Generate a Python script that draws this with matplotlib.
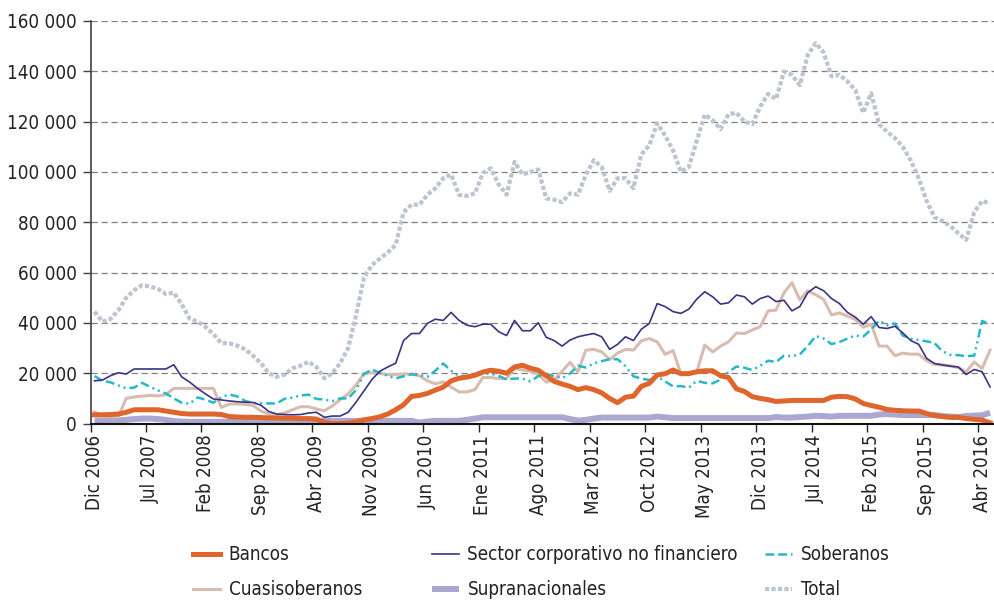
import numpy as np
import matplotlib.pyplot as plt
from matplotlib.ticker import FuncFormatter

plt.rcParams['font.family'] = ['DejaVu Sans']
plt.rcParams['font.stretch'] = 'condensed'

# Monthly series, Dic 2006 - May 2016 (thousands)
bancos = [3.5, 3.5, 3.6, 3.8, 4.5, 5.5, 5.5, 5.5, 5.5, 5.0, 4.5, 4.0, 3.8, 3.8, 3.8, 3.8, 3.6, 2.8, 2.6, 2.5,
          2.5, 2.4, 2.3, 2.2, 2.2, 2.1, 2.0, 2.0, 1.8,
          0.5, 0.0, 0.0, 0.2, 0.7, 1.5, 2.0, 2.7, 3.8, 5.5, 7.5, 10.8, 11.2, 12.0, 13.3, 14.5, 17.0, 18.0, 18.5,
          19.2, 20.5, 21.2, 20.8, 20.0, 22.5, 23.2, 22.0, 21.2, 19.0,
          16.8, 15.7, 14.8, 13.5, 14.3, 13.5, 12.2, 10.0, 8.3, 10.5, 10.9, 14.8, 16.0, 19.3, 19.8, 21.3, 19.8,
          19.9, 20.6, 21.0, 21.0, 19.0, 18.3, 13.8, 12.8, 10.7, 10.0, 9.5, 8.8,
          9.0, 9.2, 9.2, 9.2, 9.2, 9.2, 10.5, 10.8, 10.7, 9.8, 8.0, 7.2, 6.5, 5.6, 5.3, 5.1, 5.0, 5.0, 4.0, 3.2,
          2.8, 2.5, 2.5, 2.0, 1.7, 1.4, 0.3]
corporativo = [17.0, 17.3, 19.0, 20.2, 19.7, 21.7, 21.7, 21.7, 21.7, 21.7, 23.4, 18.6, 16.5, 14.0, 11.8, 9.8,
               9.4, 9.0, 8.7, 8.5, 8.4, 7.3, 4.8, 3.8, 3.6, 3.5, 3.6, 4.2, 4.5,
               2.5, 3.0, 3.0, 4.5, 8.5, 13.0, 17.5, 20.8, 22.5, 24.0, 33.0, 35.8, 35.8, 39.8, 41.5, 41.0, 44.2,
               41.0, 39.1, 38.5, 39.5, 39.5, 36.5, 35.0, 41.0, 36.9, 36.9, 40.1, 34.3,
               33.0, 30.8, 33.2, 34.5, 35.2, 35.8, 34.5, 29.5, 31.5, 34.5, 33.0, 37.5, 39.8, 47.7, 46.5, 44.5,
               43.8, 45.5, 49.5, 52.4, 50.4, 47.5, 48.0, 51.1, 50.4, 47.5, 49.7, 50.7, 48.5,
               49.0, 44.8, 46.5, 52.0, 54.4, 52.8, 49.7, 47.7, 44.2, 42.3, 39.5, 42.5, 38.2, 37.8, 38.7, 36.0,
               33.0, 31.5, 25.9, 23.9, 23.3, 22.8, 22.5, 19.5, 21.5, 20.6, 14.6]
soberanos = [18.9, 17.0, 16.4, 15.2, 14.0, 14.3, 16.2, 14.6, 13.2, 12.0, 10.0, 8.3, 7.9, 10.4, 9.5, 8.3, 10.5,
             11.6, 10.8, 9.0, 8.2, 8.1, 8.0, 8.0, 9.9, 10.3, 11.2, 11.5, 9.8,
             9.6, 8.9, 10.0, 10.0, 13.3, 19.7, 21.5, 20.2, 19.0, 18.0, 18.8, 19.6, 19.3, 18.6, 21.0, 23.9, 21.0,
             18.9, 18.9, 19.2, 19.8, 19.8, 19.0, 17.5, 17.9, 17.9, 16.8, 18.9, 19.7,
             18.9, 18.0, 19.9, 23.0, 22.3, 23.9, 24.8, 25.6, 25.6, 22.8, 18.8, 17.9, 17.3, 18.8, 16.8, 14.8,
             14.9, 14.3, 17.0, 16.2, 16.0, 17.5, 20.5, 22.7, 22.2, 21.3, 23.0, 25.0, 24.5,
             27.0, 26.8, 27.5, 30.8, 34.8, 33.8, 31.6, 32.4, 33.8, 35.0, 34.6, 37.4, 40.9, 39.1, 39.8, 35.0,
             33.7, 33.2, 32.7, 32.0, 28.7, 27.3, 27.2, 26.8, 27.0, 40.8, 39.5]
cuasisoberanos = [4.6, 3.3, 2.8, 2.7, 10.0, 10.6, 10.9, 11.2, 11.0, 11.5, 14.0, 14.0, 14.0, 14.0, 14.0, 14.0,
                  6.4, 7.8, 7.8, 7.6, 7.2, 5.0, 3.8, 3.5, 4.3, 5.5, 6.7, 6.7, 5.8,
                  5.1, 7.0, 9.5, 11.8, 15.3, 19.9, 20.2, 19.9, 19.5, 19.5, 19.7, 19.7, 19.0, 17.0, 15.8, 16.6,
                  14.5, 12.6, 12.6, 13.5, 18.3, 18.3, 17.9, 17.9, 21.9, 21.3, 20.8, 19.5, 16.5,
                  17.4, 20.8, 24.3, 20.6, 29.2, 29.5, 28.5, 25.5, 28.0, 29.5, 29.2, 32.9, 33.8, 32.5, 27.5, 29.0,
                  19.7, 19.4, 20.6, 31.2, 28.5, 30.8, 32.5, 36.0, 35.8, 37.2, 38.5, 44.8, 45.1,
                  52.0, 56.0, 49.2, 52.8, 51.2, 49.3, 43.2, 44.0, 42.7, 41.4, 38.3, 39.5, 30.8, 30.8, 27.0, 28.0,
                  27.6, 27.6, 25.0, 23.5, 23.3, 23.0, 22.2, 20.6, 24.5, 21.9, 29.2]
supranacionales = [1.2, 1.2, 1.2, 1.3, 1.5, 1.8, 2.0, 2.0, 1.8, 1.5, 1.0, 0.8, 0.7, 0.7, 0.7, 0.7, 0.7, 0.7,
                   0.7, 0.7, 0.7, 0.7, 0.7, 0.7, 0.7, 0.7, 0.7, 0.7, 0.7,
                   1.1, 1.1, 1.1, 1.1, 1.1, 1.1, 1.1, 1.1, 1.1, 1.1, 1.1, 1.1, 0.4, 0.8, 1.1, 1.1, 1.1, 1.1, 1.5,
                   2.0, 2.5, 2.5, 2.5, 2.5, 2.5, 2.5, 2.5, 2.5, 2.5,
                   2.5, 2.5, 1.8, 1.2, 1.5, 2.0, 2.4, 2.4, 2.4, 2.4, 2.4, 2.4, 2.4, 2.8, 2.5, 2.2, 2.2, 2.2, 2.2,
                   2.2, 2.2, 2.2, 2.2, 2.2, 2.2, 2.2, 2.2, 2.2, 2.6,
                   2.4, 2.4, 2.6, 2.8, 3.1, 3.0, 2.8, 3.1, 3.1, 3.1, 3.1, 3.1, 3.6, 3.8, 3.6, 3.4, 3.4, 3.4, 3.4,
                   3.4, 3.0, 2.8, 2.6, 3.0, 3.2, 3.3, 4.3]
total = [44.5, 40.5, 41.5, 45.0, 50.0, 53.0, 55.0, 54.5, 53.5, 51.5, 52.0, 47.5, 41.7, 40.5, 38.5, 35.5, 32.0,
         31.9, 31.0, 29.5, 27.0, 24.0, 20.0, 18.6, 19.5, 22.0, 23.0, 24.6, 22.5,
         18.0, 20.0, 24.0, 30.0, 43.0, 58.0, 63.0, 65.5, 68.0, 71.0, 84.0, 87.0, 87.0, 90.9, 93.5, 97.5, 99.0,
         90.9, 90.5, 91.5, 99.5, 101.5, 95.0, 91.0, 104.0, 99.0, 100.0, 101.0, 89.5,
         89.0, 88.0, 91.5, 91.0, 98.8, 104.7, 102.0, 92.5, 97.5, 97.5, 93.5, 107.0, 110.5, 119.3, 114.5,
         108.5, 100.1, 102.0, 112.5, 122.8, 120.5, 117.0, 123.0, 123.5, 120.0, 119.0, 126.0, 131.0, 129.0,
         139.9, 138.6, 134.5, 146.5, 151.2, 147.5, 138.0, 138.6, 136.0, 132.6, 123.5, 131.3, 119.0, 116.0,
         113.5, 110.0, 104.5, 97.5, 88.5, 82.0, 80.5, 78.5, 75.6, 73.0, 84.0, 88.5, 87.5]

tick_labels = ['Dic 2006', 'Jul 2007', 'Feb 2008', 'Sep 2008', 'Abr 2009', 'Nov 2009', 'Jun 2010',
               'Ene 2011', 'Ago 2011', 'Mar 2012', 'Oct 2012', 'May 2013', 'Dic 2013', 'Jul 2014',
               'Feb 2015', 'Sep 2015', 'Abr 2016']
tick_step = 7

x = np.arange(len(total))

fig = plt.figure(figsize=(9.95, 6.0), dpi=100)
ax = fig.add_axes([0.091, 0.294, 0.908, 0.671])

l_total, = ax.plot(x, np.array(total) * 1000, color='#bcc4d0', lw=3.0, dashes=(1.0, 0.55), label='Total')
l_supra, = ax.plot(x, np.array(supranacionales) * 1000, color='#aaa7d0', lw=4.3,
                   solid_capstyle='butt', label='Supranacionales')
l_cuasi, = ax.plot(x, np.array(cuasisoberanos) * 1000, color='#d8bcb0', lw=2.2, label='Cuasisoberanos')
l_sob, = ax.plot(x, np.array(soberanos) * 1000, color='#27b8c8', lw=1.8,
                 dashes=(3.5, 1.6, 3.5, 1.6, 0.8, 1.6, 0.8, 1.6), label='Soberanos')
l_banc, = ax.plot(x, np.array(bancos) * 1000, color='#e0652d', lw=3.6, label='Bancos')
l_corp, = ax.plot(x, np.array(corporativo) * 1000, color='#3a3383', lw=1.2,
                  label='Sector corporativo no financiero')

ax.set_xlim(-0.5, len(total) - 0.5)
ax.set_ylim(0, 160000)

# labels on the months, tick marks between months
ticks = np.arange(0, len(tick_labels) * tick_step, tick_step)
ax.set_xticks(ticks)
ax.set_xticklabels(tick_labels, rotation=90, fontsize=13.5, color='#222222')
ax.set_xticks(ticks - 0.5, minor=True)
ax.tick_params(axis='x', which='major', length=0, pad=8)
ax.tick_params(axis='x', which='minor', length=6, width=1.0, color='#222222')

ax.set_yticks(np.arange(0, 160001, 20000))
ax.yaxis.set_major_formatter(FuncFormatter(lambda v, p: f'{int(v):,}'.replace(',', ' ')))
ax.tick_params(axis='y', length=6, width=1.0, color='#404040', labelsize=13.5, labelcolor='#222222', pad=4)

ax.yaxis.grid(True, linestyle=(0, (5, 3)), color='#808080', linewidth=0.9)
ax.set_axisbelow(True)
for s in ['top', 'right']:
    ax.spines[s].set_visible(False)
ax.spines['left'].set_color('#404040')
ax.spines['left'].set_linewidth(1.2)
ax.spines['bottom'].set_color('#111111')
ax.spines['bottom'].set_linewidth(1.5)

# legend: three columns, two rows
legend_cols = [([l_banc, l_cuasi], 0.194), ([l_corp, l_supra], 0.434), ([l_sob, l_total], 0.769)]
for col_handles, x0 in legend_cols:
    fig.legend(col_handles, [h.get_label() for h in col_handles], loc='upper left',
               bbox_to_anchor=(x0, 0.091), frameon=False, fontsize=13.5, handlelength=1.45,
               handletextpad=0.45, labelspacing=0.85, borderpad=0, borderaxespad=0,
               labelcolor='#222222')

fig.savefig('out.png', dpi=100)
